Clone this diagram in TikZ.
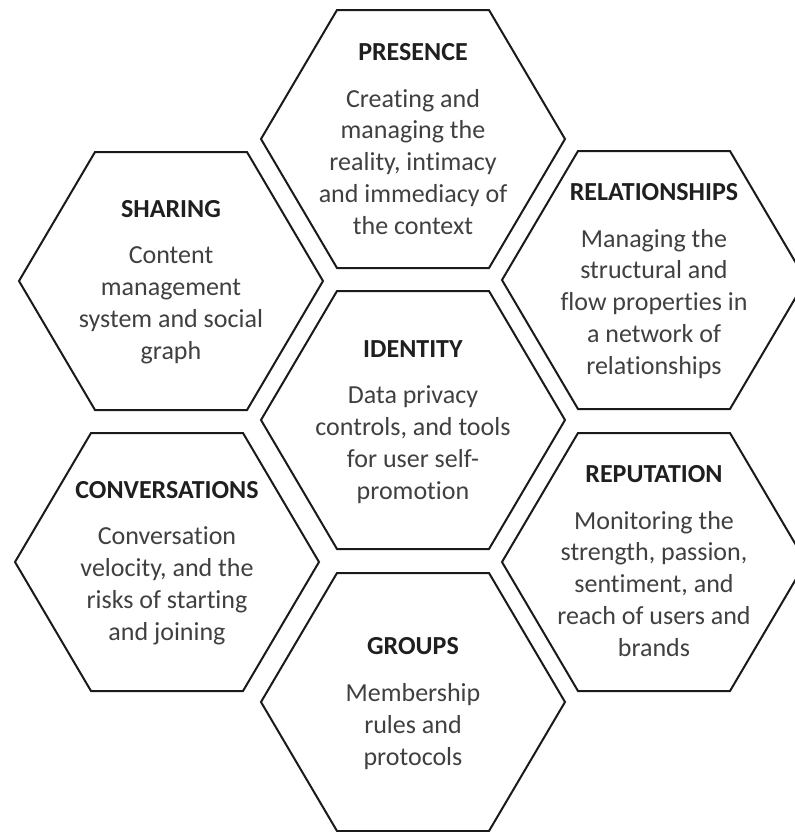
\documentclass[tikz,border=0pt]{standalone}
\usepackage{fontspec}
\setmainfont{Carlito}[Ligatures=NoCommon]
\definecolor{hexline}{HTML}{1A1A1A}
\definecolor{hextitle}{HTML}{1F1F1F}
\definecolor{hexbody}{HTML}{404040}
\tikzset{
  hexa/.style={draw=hexline, line width=1pt, line join=miter},
  cell/.style={align=center, anchor=base, inner sep=0pt, text=hexbody,
    font=\fontsize{13pt}{15.85pt}\selectfont},
}
\newcommand{\celltitle}[1]{\textcolor{hextitle}{\textbf{#1}}\\[7.6pt]}
\begin{document}
\begin{tikzpicture}[x=0.5pt,y=-0.5pt]
   \useasboundingbox[fill=white] (0,0) rectangle (795,832);
   % honeycomb
   \foreach \cx/\cy in {413/139,171/281,654/280,413/420,167/562,654/562,413/702}
      \draw[hexa] (\cx-152,\cy) -- (\cx-76,\cy-129) -- (\cx+76,\cy-129) --
      (\cx+152,\cy) -- (\cx+76,\cy+129) -- (\cx-76,\cy+129) -- cycle;

   % base of each text = baseline of its last line
   \node[cell] (presence) at (413,234)
      {\celltitle{PRESENCE}Creating and\\managing the\\reality, intimacy\\and immediacy of\\the context};
   \node[cell] (sharing) at (171,359)
      {\celltitle{SHARING}Content\\management\\system and social\\graph};
   \node[cell] (relationships) at (654,374)
      {\celltitle{RELATIONSHIPS}Managing the\\structural and\\flow properties in\\a network of\\relationships};
   \node[cell] (identity) at (413,499)
      {\celltitle{IDENTITY}Data privacy\\controls, and tools\\for user self-\\promotion};
   \node[cell] (conversations) at (167,640)
      {\celltitle{CONVERSATIONS}Conversation\\velocity, and the\\risks of starting\\and joining};
   \node[cell] (reputation) at (654,656)
      {\celltitle{REPUTATION}Monitoring the\\strength, passion,\\sentiment, and\\reach of users and\\brands};
   \node[cell] (groups) at (413,765)
      {\celltitle{GROUPS}Membership\\rules and\\protocols};
\end{tikzpicture}
\end{document}
